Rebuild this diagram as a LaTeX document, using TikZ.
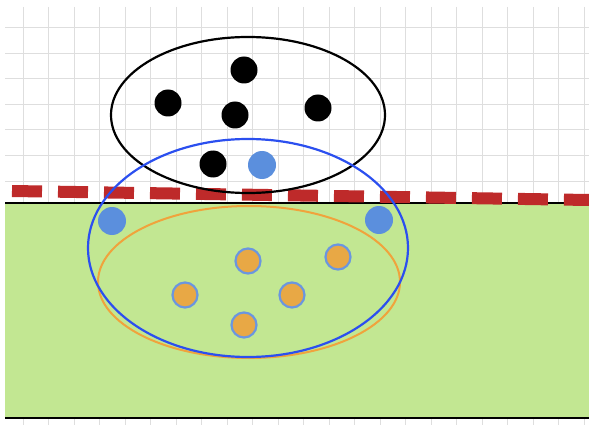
\documentclass[tikz,border=0pt]{standalone}
\usetikzlibrary{shapes.geometric}
\definecolor{grass}{HTML}{C2E792}
\definecolor{redline}{HTML}{BE2A2A}
\definecolor{blueline}{HTML}{2B4FEF}
\definecolor{orangeline}{HTML}{F0A33C}
\definecolor{bluedot}{HTML}{5B8FDD}
\definecolor{orangedot}{HTML}{E8A845}
\definecolor{dotrim}{HTML}{6A96E0}
\definecolor{gridgray}{HTML}{DEDEDE}
\tikzset{
  blackdot/.style={circle,fill=black,minimum size=27pt,inner sep=0pt},
  bluedotst/.style={circle,fill=bluedot,minimum size=28pt,inner sep=0pt},
  orangedotst/.style={circle,fill=orangedot,draw=dotrim,line width=2.2pt,minimum size=25pt,inner sep=0pt},
}
\begin{document}
\begin{tikzpicture}[x=1pt,y=-1pt]
\useasboundingbox (0,0) rectangle (589,425);
% grid
\foreach \i in {0,...,22} \draw[gridgray,line width=1pt] (23+25.5*\i,7) -- (23+25.5*\i,425);
\foreach \j in {0,...,6} \draw[gridgray,line width=1pt] (5,28+25.5*\j) -- (589,28+25.5*\j);
% ground
\fill[grass] (5,203) rectangle (589,418);
\draw[black,line width=2.4pt] (5,203) -- (589,203);
\draw[black,line width=2.4pt] (5,418) -- (589,418);
% red dashed line
\coordinate (r1) at (12,191);
\coordinate (r2) at (589,200);
\draw[redline,line width=12pt,dash pattern=on 30pt off 16pt] (r1) -- (r2);
% ellipses
\node[draw=black,line width=2.2pt,ellipse,minimum width=274pt,minimum height=156pt,inner sep=0pt] (E1) at (248,115) {};
\draw[orangeline,line width=2pt] (249,282) ellipse (151 and 76);
\draw[blueline,line width=2.2pt] (248,248) ellipse (160 and 109);
% dots
\node[blackdot] (b1) at (244,70) {};
\node[blackdot] (b2) at (168,103) {};
\node[blackdot] (b3) at (235,115) {};
\node[blackdot] (b4) at (318,108) {};
\node[blackdot] (b5) at (213,164) {};
\node[bluedotst] (u1) at (262,165) {};
\node[bluedotst] (u2) at (112,221) {};
\node[bluedotst] (u3) at (379,220) {};
\node[orangedotst] (o1) at (248,261) {};
\node[orangedotst] (o2) at (338,257) {};
\node[orangedotst] (o3) at (185,295) {};
\node[orangedotst] (o4) at (292,295) {};
\node[orangedotst] (o5) at (244,325) {};
\end{tikzpicture}
\end{document}
